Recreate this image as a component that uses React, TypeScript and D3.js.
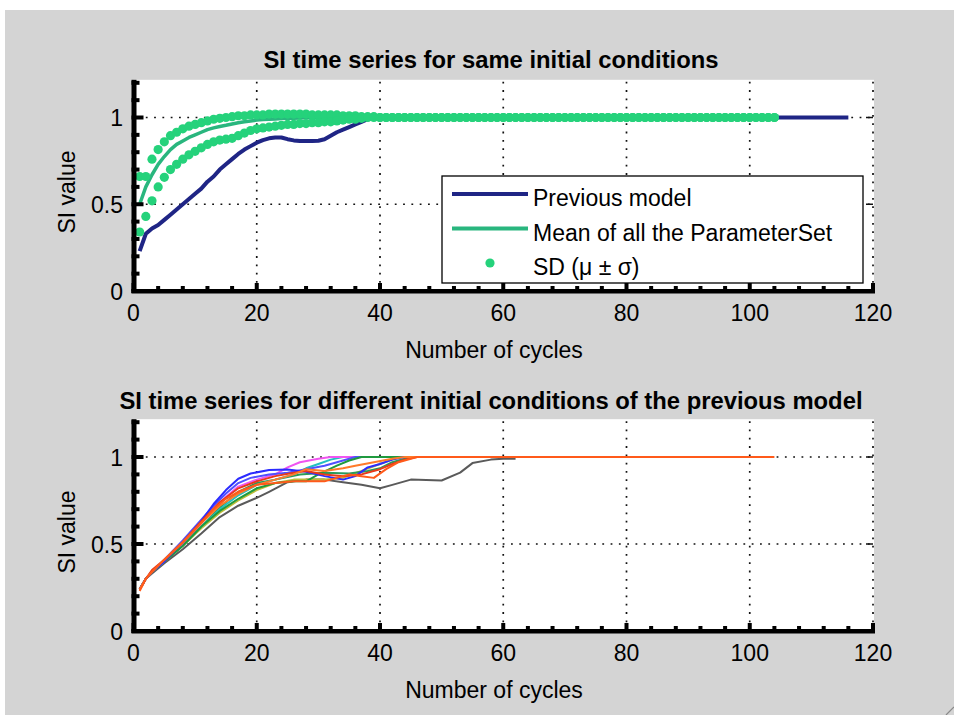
import React from "react";
import * as d3 from "d3";

const FONT = "'Liberation Sans', Arial, Helvetica, sans-serif";

// ---- axes ----
const xTickValues = [0, 20, 40, 60, 80, 100, 120];
const xTickLabels = ["0", "20", "40", "60", "80", "100", "120"];
const yTickValues = [0, 0.5, 1];
const yTickLabels = ["0", "0.5", "1"];

const topTitle = "SI time series for same initial conditions";
const bottomTitle = "SI time series for different initial conditions of the previous model";
const xLabel = "Number of cycles";
const yLabel = "SI value";
const legendLabels = ["Previous model", "Mean of all the ParameterSet", "SD (\u03bc \u00b1 \u03c3)"];

// ---- top panel: [cycle, SI] ----
const previousModel: [number, number][] = [
  [1, 0.23], [2, 0.33], [3, 0.36], [4, 0.38], [5, 0.41], [6, 0.44], [7, 0.47], [8, 0.5],
  [9, 0.53], [10, 0.56], [11, 0.59], [12, 0.63], [13, 0.66], [14, 0.7], [15, 0.73],
  [16, 0.76], [17, 0.79], [18, 0.815], [19, 0.835], [20, 0.855], [21, 0.87], [22, 0.88],
  [23, 0.885], [24, 0.885], [25, 0.875], [26, 0.868], [27, 0.865], [28, 0.864],
  [29, 0.864], [30, 0.866], [31, 0.875], [32, 0.895], [33, 0.915], [34, 0.93],
  [35, 0.945], [36, 0.96], [37, 0.975], [38, 0.99], [39, 1], [116, 1],
];

// mean of all parameter sets, cycles 1..104
const meanParameterSet = [
  0.5, 0.6, 0.67, 0.73, 0.775, 0.815, 0.845, 0.865, 0.885, 0.9,
  0.915, 0.93, 0.94, 0.948, 0.955, 0.963, 0.97, 0.975, 0.98, 0.985,
  0.988, 0.99, 0.992, 0.994, 0.995, 0.996, 0.997, 0.998, 0.999, 1,
  1, 1, 1, 1, 1, 1, 1, 1, 1, 1,
  1, 1, 1, 1, 1, 1, 1, 1, 1, 1, 1, 1, 1, 1, 1, 1,
  1, 1, 1, 1, 1, 1, 1, 1, 1, 1, 1, 1, 1, 1, 1, 1,
  1, 1, 1, 1, 1, 1, 1, 1, 1, 1, 1, 1, 1, 1, 1, 1,
  1, 1, 1, 1, 1, 1, 1, 1, 1, 1, 1, 1, 1, 1, 1, 1,
];

// mean + sd, cycles 1..104
const sdUpper = [
  0.66, 0.66, 0.76, 0.815, 0.86, 0.895, 0.915, 0.935, 0.95, 0.96,
  0.97, 0.98, 0.99, 0.995, 1.0, 1.005, 1.01, 1.01, 1.015, 1.015,
  1.015, 1.02, 1.02, 1.02, 1.02, 1.02, 1.02, 1.02, 1.015, 1.015,
  1.015, 1.015, 1.015, 1.01, 1.01, 1.01, 1.005, 1.005, 1.005, 1.0,
  1, 1, 1, 1, 1, 1, 1, 1, 1, 1, 1, 1, 1, 1, 1, 1,
  1, 1, 1, 1, 1, 1, 1, 1, 1, 1, 1, 1, 1, 1, 1, 1,
  1, 1, 1, 1, 1, 1, 1, 1, 1, 1, 1, 1, 1, 1, 1, 1,
  1, 1, 1, 1, 1, 1, 1, 1, 1, 1, 1, 1, 1, 1, 1, 1,
];

// mean - sd, cycles 1..104
const sdLower = [
  0.34, 0.43, 0.52, 0.6, 0.655, 0.7, 0.73, 0.76, 0.785, 0.805,
  0.825, 0.845, 0.86, 0.87, 0.875, 0.88, 0.895, 0.91, 0.925, 0.935,
  0.94, 0.945, 0.95, 0.955, 0.96, 0.96, 0.965, 0.965, 0.97, 0.97,
  0.975, 0.975, 0.98, 0.985, 0.99, 0.99, 0.995, 1, 1, 1,
  1, 1, 1, 1, 1, 1, 1, 1, 1, 1, 1, 1, 1, 1, 1, 1,
  1, 1, 1, 1, 1, 1, 1, 1, 1, 1, 1, 1, 1, 1, 1, 1,
  1, 1, 1, 1, 1, 1, 1, 1, 1, 1, 1, 1, 1, 1, 1, 1,
  1, 1, 1, 1, 1, 1, 1, 1, 1, 1, 1, 1, 1, 1, 1, 1,
];

// ---- bottom panel: runs of the previous model, [cycle, SI] ----
const runBlue: [number, number][] = [
  [1, 0.24], [2, 0.3], [3, 0.34], [5, 0.4], [8, 0.51], [11, 0.63], [13, 0.73], [15, 0.81],
  [17, 0.875], [19, 0.905], [22, 0.925], [25, 0.928], [28, 0.915], [31, 0.89], [34, 0.87],
  [36, 0.89], [38, 0.94], [40, 0.96], [42, 0.985], [44, 1], [47, 1],
];
const runMagenta: [number, number][] = [
  [1, 0.24], [2, 0.3], [3, 0.34], [5, 0.4], [8, 0.5], [11, 0.62], [13, 0.7], [15, 0.77],
  [17, 0.83], [20, 0.87], [23, 0.9], [25, 0.94], [27, 0.97], [30, 0.99], [32, 1], [38, 1],
];
const runGray: [number, number][] = [
  [1, 0.24], [2, 0.3], [3, 0.33], [5, 0.39], [8, 0.47], [11, 0.56], [14, 0.655], [17, 0.72],
  [20, 0.765], [22, 0.8], [25, 0.855], [28, 0.87], [31, 0.87], [34, 0.855], [37, 0.84],
  [40, 0.82], [42, 0.84], [45, 0.87], [50, 0.865], [53, 0.91], [55, 0.965], [58, 0.985],
  [60, 0.99], [62, 0.99],
];
const runOrangeRed: [number, number][] = [
  [1, 0.23], [2, 0.3], [3, 0.34], [5, 0.41], [8, 0.51], [11, 0.62], [13, 0.7], [15, 0.76],
  [17, 0.8], [20, 0.84], [23, 0.85], [26, 0.86], [29, 0.86], [31, 0.86], [33, 0.88],
  [35, 0.9], [37, 0.89], [39, 0.88], [41, 0.93], [43, 0.97], [45, 0.99], [46, 1], [104, 1],
];
const runGreen: [number, number][] = [
  [1, 0.24], [2, 0.3], [3, 0.34], [5, 0.4], [8, 0.49], [11, 0.6], [14, 0.69], [17, 0.76],
  [20, 0.82], [23, 0.85], [26, 0.86], [28, 0.86], [30, 0.9], [33, 0.95], [35, 0.98],
  [37, 1], [49, 1],
];
const runCyan: [number, number][] = [
  [1, 0.24], [2, 0.3], [3, 0.34], [5, 0.4], [8, 0.5], [11, 0.6], [14, 0.7], [17, 0.78],
  [20, 0.84], [23, 0.87], [26, 0.9], [28, 0.935], [30, 0.96], [32, 0.985], [34, 1], [40, 1],
];
const runOlive: [number, number][] = [
  [1, 0.24], [2, 0.3], [3, 0.34], [5, 0.4], [8, 0.49], [11, 0.59], [14, 0.68], [17, 0.75],
  [20, 0.81], [23, 0.85], [26, 0.87], [29, 0.87], [31, 0.87], [34, 0.88], [37, 0.92],
  [40, 0.96], [43, 1], [46, 1],
];
const runOrange: [number, number][] = [
  [1, 0.24], [2, 0.3], [3, 0.34], [5, 0.41], [8, 0.51], [11, 0.62], [14, 0.72], [17, 0.79],
  [20, 0.84], [23, 0.87], [26, 0.9], [28, 0.93], [31, 0.92], [34, 0.935], [36, 0.95],
  [39, 0.97], [42, 0.99], [44, 1], [48, 1],
];
const runDarkGreen: [number, number][] = [
  [1, 0.24], [2, 0.3], [3, 0.34], [5, 0.4], [8, 0.49], [11, 0.6], [14, 0.71], [17, 0.8],
  [20, 0.85], [23, 0.87], [27, 0.9], [31, 0.91], [35, 0.905], [38, 0.92], [40, 0.935],
  [42, 0.97], [45, 1], [49, 1],
];
const runBlue2: [number, number][] = [
  [1, 0.24], [2, 0.3], [3, 0.34], [5, 0.41], [8, 0.52], [11, 0.64], [13, 0.72], [15, 0.79],
  [17, 0.85], [19, 0.88], [22, 0.9], [25, 0.91], [28, 0.93], [31, 0.95], [33, 0.97],
  [36, 1], [44, 1],
];
const runRed: [number, number][] = [
  [1, 0.24], [2, 0.3], [3, 0.35], [5, 0.41], [8, 0.51], [11, 0.63], [14, 0.74], [17, 0.82],
  [20, 0.86], [23, 0.89], [26, 0.91], [28, 0.92], [31, 0.9], [34, 0.89], [37, 0.9],
  [40, 0.93], [42, 0.96], [44, 0.985], [46, 1], [48, 1],
];

const runs = [runGray, runOlive, runDarkGreen, runCyan, runMagenta, runBlue2, runGreen, runBlue, runRed, runOrange, runOrangeRed];
const runColors = ["#5a5a5a", "#bcbc3a", "#2a9a5a", "#22c0c0", "#f055f0", "#5050ff", "#1f9a3e", "#2b2bff", "#e83a1a", "#ff7a2a", "#ff5a1a"];

// ---- colours ----
const NAVY = "#1f2585";
const MEAN_GREEN = "#29b67e";
const DOT_GREEN = "#25d27b";

// ---- scales ----
const xScale = d3.scaleLinear().domain([0, 120]).range([133.5, 873]);
const yTop = d3.scaleLinear().domain([0, 1.2]).range([291, 82.8]);
const yBottom = d3.scaleLinear().domain([0, 1.2]).range([631, 422.2]);

const minorX = d3.range(0, 121, 4);
const minorY = d3.range(0, 1.21, 0.1);

type AxesProps = {
  y: d3.ScaleLinear<number, number>;
  title: string;
  titleWidth: number;
  titleBaseline: number;
  tickBaseline: number;
  xLabelBaseline: number;
  yLabelCenter: number;
  children?: React.ReactNode;
};

function Axes({ y, title, titleWidth, titleBaseline, tickBaseline, xLabelBaseline, yLabelCenter, children }: AxesProps) {
  const [x0, x1] = xScale.range();
  const yb = y(0);
  const yt = y(1.2);
  const grid = { stroke: "#111", strokeWidth: 1.7, strokeDasharray: "1.8 6.5" };
  return (
    <g>
      <rect x={x0} y={yt - 3} width={x1 - x0 + 1} height={yb - yt + 3} fill="#fff" />
      {xTickValues.slice(1).map((v) => (
        <line key={"gx" + v} x1={xScale(v)} x2={xScale(v)} y1={yt - 1} y2={yb} {...grid} />
      ))}
      {yTickValues.slice(1).map((v) => (
        <line key={"gy" + v} x1={x0 + 4} x2={x1} y1={y(v)} y2={y(v)} {...grid} />
      ))}
      {children}
      {/* right-hand ticks */}
      {yTickValues.slice(1).map((v) => (
        <line key={"rt" + v} x1={x1 - 7} x2={x1} y1={y(v)} y2={y(v)} stroke="#111" strokeWidth={1.5} />
      ))}
      {/* bottom axis */}
      <rect x={x0 - 2} y={yb - 2} width={x1 - x0 + 4} height={4.5} fill="#000" />
      {minorX.map((v) => {
        const major = v % 20 === 0;
        return (
          <rect
            key={"tx" + v}
            x={xScale(v) - 2}
            y={yb - (major ? 8 : 5)}
            width={4}
            height={major ? 8 : 5}
            fill="#000"
          />
        );
      })}
      {/* left axis */}
      <rect x={x0 - 2} y={yt - 3} width={5} height={yb - yt + 5} fill="#000" />
      {minorY.map((v) => {
        const major = Math.abs(v * 2 - Math.round(v * 2)) < 1e-6;
        return (
          <rect
            key={"ty" + v}
            x={x0 - 2}
            y={y(v) - 2}
            width={major ? 12 : 8}
            height={4}
            fill="#000"
          />
        );
      })}
      {/* tick labels */}
      {xTickValues.map((v, i) => (
        <text key={"lx" + v} x={xScale(v)} y={tickBaseline} textAnchor="middle" fontSize={23} fontFamily={FONT} fill="#000">
          {xTickLabels[i]}
        </text>
      ))}
      {yTickValues.map((v, i) => (
        <text key={"ly" + v} x={123} y={y(v) + 8.5} textAnchor="end" fontSize={23} fontFamily={FONT} fill="#000">
          {yTickLabels[i]}
        </text>
      ))}
      <text x={494} y={xLabelBaseline} textAnchor="middle" fontSize={23} fontFamily={FONT} fill="#000">
        {xLabel}
      </text>
      <text
        transform={`translate(75,${yLabelCenter}) rotate(-90)`}
        textAnchor="middle"
        fontSize={23}
        fontFamily={FONT}
        fill="#000"
      >
        {yLabel}
      </text>
      <text
        x={491}
        y={titleBaseline}
        textAnchor="middle"
        fontSize={23.5}
        fontWeight="bold"
        fontFamily={FONT}
        fill="#000"
        textLength={titleWidth}
        lengthAdjust="spacingAndGlyphs"
      >
        {title}
      </text>
    </g>
  );
}

export default function App() {
  const topLine = d3
    .line<[number, number]>()
    .x((d) => xScale(d[0]))
    .y((d) => yTop(d[1]));
  const botLine = d3
    .line<[number, number]>()
    .x((d) => xScale(d[0]))
    .y((d) => yBottom(d[1]));

  const meanPts = meanParameterSet.map((v, i) => [i + 1, v] as [number, number]);

  return (
    <svg
      width={954}
      height={715}
      style={{ position: "absolute", left: 0, top: 0, display: "block" }}
    >
      <rect x={0} y={0} width={954} height={715} fill="#fff" />
      <rect x={5} y={10} width={949} height={705} fill="#d4d4d4" />
      <line x1={946} y1={715} x2={954} y2={707} stroke="#8a8a8a" strokeWidth={1.2} />

      <Axes
        y={yTop}
        title={topTitle}
        titleWidth={455}
        titleBaseline={68}
        tickBaseline={321}
        xLabelBaseline={358}
        yLabelCenter={192}
      >
        <path d={topLine(previousModel) ?? ""} fill="none" stroke={NAVY} strokeWidth={4} strokeLinejoin="round" />
        <path d={topLine(meanPts) ?? ""} fill="none" stroke={MEAN_GREEN} strokeWidth={3.5} strokeLinejoin="round" />
        {sdUpper.map((v, i) => (
          <circle key={"u" + i} cx={xScale(i + 1)} cy={yTop(v)} r={4.6} fill={DOT_GREEN} />
        ))}
        {sdLower.map((v, i) => (
          <circle key={"l" + i} cx={xScale(i + 1)} cy={yTop(v)} r={4.6} fill={DOT_GREEN} />
        ))}
      </Axes>

      {/* legend */}
      <g fontFamily={FONT} fontSize={23} fill="#000">
        <rect x={442} y={176} width={421} height={107} fill="#fff" stroke="#000" strokeWidth={1.3} />
        <line x1={452} x2={528} y1={194} y2={194} stroke={NAVY} strokeWidth={4} />
        <text x={533} y={206}>{legendLabels[0]}</text>
        <line x1={452} x2={528} y1={228.5} y2={228.5} stroke={MEAN_GREEN} strokeWidth={4} />
        <text x={533} y={240.5}>{legendLabels[1]}</text>
        <circle cx={490} cy={263} r={4.6} fill={DOT_GREEN} />
        <text x={533} y={274.5}>{legendLabels[2]}</text>
      </g>

      <Axes
        y={yBottom}
        title={bottomTitle}
        titleWidth={743}
        titleBaseline={409}
        tickBaseline={661}
        xLabelBaseline={698}
        yLabelCenter={532}
      >
        {runs.map((r, i) => (
          <path key={"run" + i} d={botLine(r) ?? ""} fill="none" stroke={runColors[i]} strokeWidth={2} strokeLinejoin="round" />
        ))}
      </Axes>
    </svg>
  );
}
